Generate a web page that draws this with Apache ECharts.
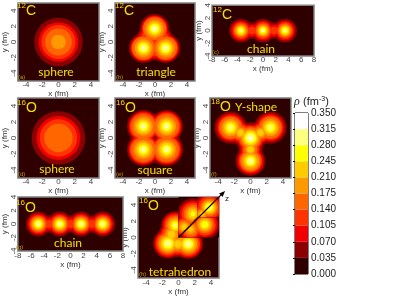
<!DOCTYPE html>
<html><head><meta charset="utf-8">
<style>html,body{margin:0;padding:0;background:#fff}#c{width:400px;height:300px}</style>
<script src="https://cdn.jsdelivr.net/npm/echarts@6/dist/echarts.min.js"></script>
</head><body><div id="c"></div>
<script>
// density bands (fm^-3) and their colours
const rhoTicks = [0,0.035,0.07,0.105,0.14,0.175,0.21,0.245,0.28,0.315,0.35];
const bandColors = ['#2e0000','#8b0000','#f00000','#ff3300','#ff6600','#ff9900','#ffcc00','#ffff00','#ffff80','#ffffff'];

// each blob: x (fm), y (fm), iso-density radii (fm) for rho = 0.035, 0.07, ...
const sphereC = [[0,0,[3.0,2.45,2.1,1.65,0.9]]];
const triangleC = [
  [-0.05,1.7,[1.85,1.65,1.52,1.42,1.12,.85,.62,.4,.12]],
  [-1.43,-0.78,[1.85,1.65,1.52,1.42,1.12,.85,.62,.4,.12]],
  [1.33,-0.78,[1.85,1.65,1.52,1.42,1.12,.85,.62,.4,.12]],
  [-1.1,0.7,[1.15,.9,.6]],
  [1.0,0.7,[1.15,.9,.6]],
  [-0.05,-1.2,[1.15,.9,.6]],
  [-0.05,0.05,[.5,.4,.3]]
];
const chainC = [
  [-3.45,0,[1.88,1.56,1.3,1.1,.89,.68,.47,.25,.1]],
  [0,0,[1.88,1.56,1.3,1.1,.89,.68,.47,.28,.14]],
  [3.45,0,[1.88,1.56,1.3,1.1,.89,.68,.47,.25,.1]],
  [-1.72,0,[1.3,.95,.6]],
  [1.72,0,[1.3,.95,.6]]
];
const sphereO = [[0,0,[3.3,2.7,2.3,1.75]]];
const squareO = [
  [-1.45,1.45,[2.05,1.85,1.7,1.52,1.18,.88,.6,.38,.1]],
  [1.45,1.45,[2.05,1.85,1.7,1.52,1.18,.88,.6,.38,.1]],
  [-1.45,-1.45,[2.05,1.85,1.7,1.52,1.18,.88,.6,.38,.1]],
  [1.45,-1.45,[2.05,1.85,1.7,1.52,1.18,.88,.6,.38,.1]],
  [-1.9,0,[1.2,.8]],
  [1.9,0,[1.2,.8]],
  [0,1.9,[1.2,.8]],
  [0,-1.9,[1.2,.8]]
];
const yShapeO = [
  [-2.46,1.3,[2.0,1.72,1.5,1.38,1.08,.8,.55,.28]],
  [2.46,1.3,[2.0,1.72,1.5,1.38,1.08,.8,.55,.28]],
  [0,0,[1.9,1.65,1.47,1.32,1.12,.92,.72,.48,.2]],
  [0,-2.87,[1.85,1.62,1.42,1.3,1.08,.8,.58,.38,.08]],
  [-1.23,0.65,[1.5,1.25,1.05,.85,.6,.4]],
  [1.23,0.65,[1.5,1.25,1.05,.85,.6,.4]],
  [0,-1.43,[1.5,1.25,1.05,.85,.6,.4]]
];
const chainO = [
  [-4.9,0,[1.9,1.6,1.38,1.18,1.0,.78,.58,.36,.06]],
  [-1.62,0,[1.9,1.6,1.38,1.18,1.0,.78,.58,.36,.06]],
  [1.62,0,[1.9,1.6,1.38,1.18,1.0,.78,.58,.36,.06]],
  [4.9,0,[1.9,1.6,1.38,1.18,1.0,.78,.58,.36,.06]],
  [-3.26,0,[1.35,1.0,.6]],
  [0,0,[1.35,1.0,.6]],
  [3.26,0,[1.35,1.0,.6]]
];
const tetraMain = [
  [-1.3,-0.75,[1.85,1.65,1.47,1.3,1.1,.85,.62,.42,.1]],
  [1.2,-0.8,[1.85,1.65,1.47,1.3,1.1,.85,.62,.42,.08]],
  [-0.4,1.5,[1.75,1.55,1.35,1.15,.95,.7,.45,.2]],
  [-0.05,-0.8,[1.6,1.38,1.18,.95,.72,.45]],
  [-0.85,0.4,[1.6,1.38,1.18,.95,.72,.45]],
  [0.4,0.3,[1.45,1.25,1.05,.85,.6]]
];
const tetraLeftFace = [
  [1.8,2.9,[1.95,1.65,1.4,1.15,.9,.62,.3]],
  [0.7,1.3,[1.5,1.25,1.05,.85,.6,.35]]
];
const tetraRightFace = [
  [3.25,1.6,[1.85,1.58,1.35,1.12,.9,.65,.42]],
  [1.5,1.0,[1.6,1.35,1.1,.9,.6,.3]]
];
const tetraTopFace = [
  [3.8,3.7,[1.9,1.6,1.35,1.1,.9,.7,.5,.3]],
  [2.9,2.9,[1.5,1.2,.95,.7,.5,.3]]
];
// face outlines of the cut-away octant in panel (h), x/y in fm
const leftFaceEdge = [[0,0],[2.3,2.5],[2.3,5],[0,5]];
const rightFaceEdge = [[0,0],[5,0],[5,2.5],[2.3,2.5]];
const topFaceEdge = [[2.3,2.5],[5,2.5],[5,5],[2.3,5]];
const zAxisEnds = [[0,0],[5.75,5.75]];

const ticks5 = [-4,-2,0,2,4];
const panels = [
 {l:17,t:1,w:82,h:80,xr:5,yr:5,blobs:sphereC,xg:7.5,yg:8,xm:0},
 {l:115,t:1,w:80,h:80,xr:5,yr:5,blobs:triangleC,xg:7.5,yg:8,xm:0},
 {l:212,t:5,w:102,h:51,xr:8,yr:4,blobs:chainC,xg:8,yg:7,xm:0},
 {l:17,t:98,w:82,h:80,xr:5,yr:5,blobs:sphereO,xg:7.5,yg:8,xm:0},
 {l:115,t:98,w:80,h:80,xr:5,yr:5,blobs:squareO,xg:7.5,yg:8,xm:0},
 {l:210,t:98,w:81,h:80,xr:5,yr:5,blobs:yShapeO,xg:7.5,yg:6,xm:0},
 {l:15,t:197,w:108,h:54,xr:8,yr:4,blobs:chainO,xg:9,yg:8,xm:1},
 {l:138,t:197,w:81,h:81,xr:5,yr:5,blobs:tetraMain,xg:9,yg:9,xm:1,faces:[
   {edge:leftFaceEdge,blobs:tetraLeftFace},
   {edge:rightFaceEdge,blobs:tetraRightFace},
   {edge:topFaceEdge,blobs:tetraTopFace}]}
];

const tickFont={fontFamily:'Liberation Sans',fontSize:8,color:'#444'};
const grids=[],xAxes=[],yAxes=[],series=[];

function flatten(blobs){
  const out=[];
  for(let lv=1;lv<bandColors.length;lv++)
    blobs.forEach(b=>{ if(b[2][lv-1]!==undefined) out.push([b[0],b[1],b[2][lv-1],lv]); });
  return out;
}
function blobSeries(i,blobs,edge){
  return {type:'custom',coordinateSystem:'cartesian2d',xAxisIndex:i,yAxisIndex:i,silent:true,clip:true,
    encode:{x:0,y:1},data:flatten(blobs),z:edge?3:2,
    renderItem(params,api){
      const c=api.coord([api.value(0),api.value(1)]);
      const r=api.size([api.value(2),0])[0];
      const el={type:'circle',shape:{cx:c[0],cy:c[1],r:r},style:{fill:bandColors[api.value(3)]}};
      if(edge) el.clipPath={type:'polygon',shape:{points:edge.map(p=>api.coord(p))}};
      return el;
    }};
}
panels.forEach((p,i)=>{
  grids.push({left:p.l,top:p.t,width:p.w,height:p.h,show:true,backgroundColor:bandColors[0],borderColor:'#808080',borderWidth:1.5,z:1});
  const axis=(r,name,pos,gap)=>({type:'value',min:-r,max:r,interval:r===5?1:2,gridIndex:i,position:pos,
    name:name,nameLocation:'middle',nameGap:gap,
    nameTextStyle:{fontFamily:'Liberation Sans',fontSize:8,color:'#333'},
    axisLine:{show:false},splitLine:{show:false},axisTick:{show:false}});
  const lab=v=>ticks5.includes(v)||Math.abs(v)>5?String(v):'';
  const xa=axis(p.xr,'x (fm)','bottom',p.xg);
  xa.axisLabel={...tickFont,margin:p.xm,formatter:lab};
  const ya=axis(p.yr,'y (fm)','left',p.yg);
  ya.axisLabel={...tickFont,margin:0,rotate:90,formatter:lab};
  xAxes.push(xa); yAxes.push(ya);
  series.push(blobSeries(i,p.blobs));
  (p.faces||[]).forEach(f=>{
    series.push({type:'custom',coordinateSystem:'cartesian2d',xAxisIndex:i,yAxisIndex:i,silent:true,z:3,
      encode:{x:0,y:1},data:[[0,0]],
      renderItem(params,api){return {type:'polygon',shape:{points:f.edge.map(q=>api.coord(q))},style:{fill:bandColors[0]}};}});
    series.push(blobSeries(i,f.blobs,f.edge));
  });
  if(p.faces){
    series.push({type:'custom',coordinateSystem:'cartesian2d',xAxisIndex:i,yAxisIndex:i,silent:true,clip:false,z:5,
      encode:{x:0,y:1},data:[[0,0]],
      renderItem(params,api){
        const a=api.coord(zAxisEnds[0]),b=api.coord(zAxisEnds[1]);
        const dx=(b[0]-a[0]),dy=(b[1]-a[1]),L=Math.hypot(dx,dy),ux=dx/L,uy=dy/L,hl=6,hw=2.5;
        const bx=b[0]-ux*hl,by=b[1]-uy*hl;
        return {type:'group',children:[
          {type:'line',shape:{x1:a[0],y1:a[1],x2:bx,y2:by},style:{stroke:'#000',lineWidth:1.2}},
          {type:'polygon',shape:{points:[[b[0],b[1]],[bx-uy*hw,by+ux*hw],[bx+uy*hw,by-ux*hw]]},style:{fill:'#000'}}
        ]};
      }});
  }
});

// colour bar
const cb=panels.length;
grids.push({left:295,top:113,width:13,height:161,show:true,backgroundColor:'#fff',borderColor:'#000',borderWidth:1,z:1});
xAxes.push({type:'value',gridIndex:cb,min:0,max:1,show:false});
yAxes.push({type:'value',gridIndex:cb,min:0,max:0.35,interval:0.035,position:'right',
  axisLine:{show:false},splitLine:{show:false},
  axisTick:{inside:true,length:2,lineStyle:{color:'#000'}},
  axisLabel:{fontFamily:'Liberation Sans',fontSize:10,color:'#222',margin:3,formatter:v=>v.toFixed(3)}});
series.push({type:'custom',coordinateSystem:'cartesian2d',xAxisIndex:cb,yAxisIndex:cb,silent:true,z:2,
  encode:{x:0,y:1},data:bandColors.map((c,i)=>[0,rhoTicks[i],1,rhoTicks[i+1],i]),
  renderItem(params,api){
    const a=api.coord([api.value(0),api.value(3)]),b=api.coord([api.value(2),api.value(1)]);
    return {type:'rect',shape:{x:a[0],y:a[1],width:b[0]-a[0],height:b[1]-a[1]},style:{fill:bandColors[api.value(4)]}};
  }});

// text
const yellow='#f0e000', calib='Lato';
const g=[];
const txt=(t,x,y,size,fill,family,align)=>g.push({type:'text',x,y,z:20,silent:true,
  style:{text:t,fill,font:`${size}px "${family}"`,textAlign:align||'left',textVerticalAlign:'middle'}});
const iso=(mass,sym,x,y)=>{txt(mass,x,y,8,yellow,'Liberation Sans');txt(sym,x+9,y+5.5,14,yellow,'Liberation Sans');};
iso('12','C',17,6); iso('12','C',115,6); iso('12','C',213,10);
iso('16','O',17,103); iso('16','O',116,103); iso('18','O',211,102);
iso('16','O',16,203); iso('16','O',139,201);
[['sphere',56,72,12],['triangle',156,72,12],['chain',261,49,12],['sphere',57,169,12],['square',155,170,12],
 ['Y-shape',256,107,12],['chain',68,243,12],['tetrahedron',180,272,12]].forEach(a=>txt(a[0],a[1],a[2],a[3],yellow,calib,'center'));
[['(a)',18,77],['(b)',116,77],['(c)',212,52],['(d)',18,174],['(e)',116,174],['(f)',211,174],['(g)',16,247],['(h)',139,274]]
  .forEach(a=>txt(a[0],a[1],a[2],6,'#b8a000','Liberation Sans'));
txt('z',225,199,8,'#222','Liberation Sans');
g.push({type:'text',x:294,y:102,z:20,silent:true,style:{
  text:'{r|ρ} {u|(fm}{s|-3}{u|)}',textVerticalAlign:'middle',
  rich:{r:{font:'italic 12px "Liberation Serif"',fill:'#222'},u:{font:'11px "Liberation Sans"',fill:'#222'},
        s:{font:'7px "Liberation Sans"',fill:'#222',verticalAlign:'top',padding:[0,0,4,0]}}}});

const chart=echarts.init(document.getElementById('c'),null,{renderer:'canvas'});
chart.setOption({animation:false,backgroundColor:'#fff',grid:grids,xAxis:xAxes,yAxis:yAxes,series,graphic:g});
</script></body></html>
